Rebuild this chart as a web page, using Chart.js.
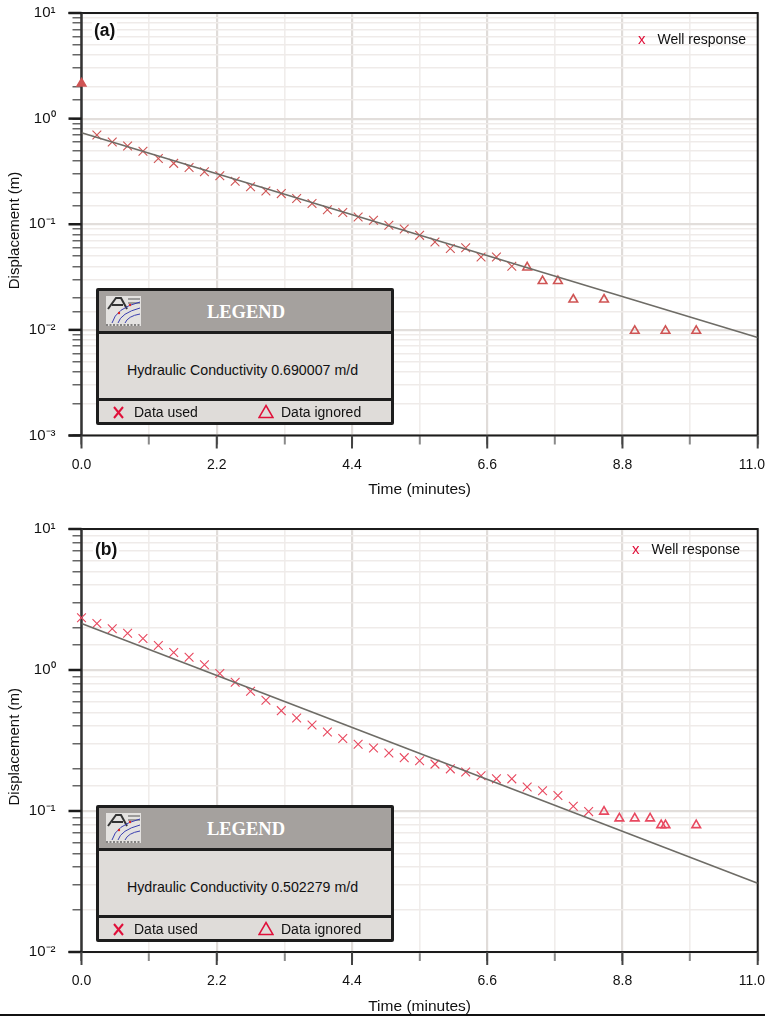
<!DOCTYPE html>
<html>
<head>
<meta charset="utf-8">
<title>Well response</title>
<script src="https://cdn.jsdelivr.net/npm/chart.js@4"></script>
<style>
html, body { margin: 0; padding: 0; background: #fff; }
body { position: relative; width: 765px; height: 1016px; overflow: hidden; font-family: "Liberation Sans", Arial, sans-serif; color: #111; }
.holder { position: absolute; left: 0; width: 765px; }
.tag { position: absolute; font-size: 17.5px; font-weight: bold; background: #fff; padding: 0 2px; line-height: 18px; }
.well { position: absolute; font-size: 14px; line-height: 16px; white-space: nowrap; }
.well b { color: #e0103a; font-weight: normal; font-size: 15px; margin-right: 12px; }
.legend { position: absolute; left: 96px; width: 298px; box-sizing: border-box; border: 3px solid #1d1d1d; border-radius: 2px; background: #dfdcd9; font-size: 14px; }
.legend .head { height: 40px; background: #a5a19e; border-bottom: 3px solid #1d1d1d; position: relative; }
.legend .head span { position: absolute; left: 2px; right: 0; top: 11px; text-align: center; color: #fff; font: bold 18.5px "Liberation Serif", serif; }
.legend .head svg { position: absolute; left: 7px; top: 5px; }
.legend .mid { height: 64px; line-height: 72px; text-align: center; padding-right: 5px; font-size: 14.2px; border-bottom: 3px solid #1d1d1d; }
.legend .foot { height: 23px; position: relative; line-height: 23px; }
.legend .foot span { position: absolute; top: 0; }
.legend .foot svg { position: absolute; }
#rule { position: absolute; left: 0; top: 1014px; width: 765px; height: 2px; background: #111; }
</style>
</head>
<body>
<div class="holder" style="top:0;height:499px"><canvas id="chartA"></canvas></div>
<div class="holder" style="top:516px;height:500px"><canvas id="chartB"></canvas></div>

<div class="tag" style="left:92px;top:21px">(a)</div>
<div class="tag" style="left:93px;top:540px">(b)</div>
<div class="well" style="left:638px;top:31px"><b>x</b>Well response</div>
<div class="well" style="left:632px;top:541px"><b>x</b>Well response</div>

<div class="legend" id="legendA" style="top:288px;height:137px"></div>
<div class="legend" id="legendB" style="top:805px;height:137px"></div>
<div id="rule"></div>

<script>
// Panel (a) readings
const timeUsedA = [0.25, 0.5, 0.75, 1, 1.25, 1.5, 1.75, 2, 2.25, 2.5, 2.75, 3, 3.25, 3.5, 3.75, 4, 4.25, 4.5, 4.75, 5, 5.25, 5.5, 5.75, 6, 6.25, 6.5, 6.75, 7];
const dispUsedA = [0.70, 0.60, 0.55, 0.49, 0.42, 0.377, 0.345, 0.314, 0.288, 0.255, 0.226, 0.206, 0.195, 0.175, 0.157, 0.137, 0.129, 0.117, 0.109, 0.098, 0.09, 0.0785, 0.068, 0.059, 0.06, 0.049, 0.049, 0.04];
const timeIgnoredA = [0, 7.25, 7.5, 7.75, 8, 8.5, 9, 9.5, 10];
const dispIgnoredA = [2.15, 0.039, 0.029, 0.029, 0.0194, 0.0194, 0.0098, 0.0098, 0.0098];
const fitTimeA = [0, 11];
const fitDispA = [0.734, 0.00845];

// Panel (b) readings
const timeUsedB = [0, 0.25, 0.5, 0.75, 1, 1.25, 1.5, 1.75, 2, 2.25, 2.5, 2.75, 3, 3.25, 3.5, 3.75, 4, 4.25, 4.5, 4.75, 5, 5.25, 5.5, 5.75, 6, 6.25, 6.5, 6.75, 7, 7.25, 7.5, 7.75, 8, 8.25];
const dispUsedB = [2.35, 2.14, 1.96, 1.82, 1.67, 1.49, 1.33, 1.23, 1.09, 0.946, 0.82, 0.706, 0.61, 0.515, 0.457, 0.407, 0.363, 0.327, 0.297, 0.28, 0.258, 0.239, 0.227, 0.215, 0.199, 0.189, 0.178, 0.169, 0.169, 0.148, 0.139, 0.129, 0.108, 0.099];
const timeIgnoredB = [8.5, 8.75, 9, 9.25, 9.43, 9.5, 10];
const dispIgnoredB = [0.099, 0.0887, 0.0887, 0.0887, 0.0794, 0.0794, 0.0794];
const fitTimeB = [0, 11];
const fitDispB = [2.14, 0.0307];

const timeTicks = ["0.0", "2.2", "4.4", "6.6", "8.8", "11.0"];
const superDigits = { "-": "\u207B", "0": "\u2070", "1": "\u00B9", "2": "\u00B2", "3": "\u00B3" };

function toPoints(xs, ys) {
    return xs.map((x, i) => ({ x: x, y: ys[i] }));
}

function isDecade(v) {
    const l = Math.log10(v);
    return Math.abs(l - Math.round(l)) < 1e-6;
}

// Frame and the longer decade ticks, neither of which the scales draw on their own
const framePlugin = {
    id: "frame",
    beforeDatasetsDraw(chart) {
        const a = chart.chartArea;
        const ctx = chart.ctx;
        ctx.save();
        ctx.strokeStyle = "#1c1c1c";
        ctx.lineWidth = 2;
        ctx.beginPath();
        ctx.moveTo(a.left - 13, a.top); ctx.lineTo(a.right, a.top); ctx.lineTo(a.right, a.bottom);
        ctx.moveTo(a.left - 13, a.bottom); ctx.lineTo(a.right, a.bottom);
        ctx.stroke();
        ctx.strokeStyle = "#333";
        ctx.lineWidth = 2.5;
        ctx.beginPath();
        ctx.moveTo(a.left, a.top); ctx.lineTo(a.left, a.bottom);
        ctx.stroke();
        ctx.strokeStyle = "#1c1c1c";
        ctx.lineWidth = 2.5;
        chart.scales.y.ticks.forEach(t => {
            if (!isDecade(t.value)) return;
            const py = chart.scales.y.getPixelForValue(t.value);
            ctx.beginPath();
            ctx.moveTo(a.left - 13, py); ctx.lineTo(a.left, py);
            ctx.stroke();
        });
        ctx.strokeStyle = "#444";
        ctx.lineWidth = 2;
        chart.scales.x.ticks.forEach((t, i) => {
            if (i % 2) return;
            const px = chart.scales.x.getPixelForValue(t.value);
            ctx.beginPath();
            ctx.moveTo(px, a.bottom); ctx.lineTo(px, a.bottom + 13);
            ctx.stroke();
        });
        ctx.restore();
    }
};

function fixWidth(w) {
    return s => {
        s.width = w;
        s.paddingLeft = s.paddingRight = s.paddingTop = s.paddingBottom = 0;
    };
}

function fixHeight(h) {
    return s => {
        s.height = h;
        s.paddingLeft = s.paddingRight = s.paddingTop = s.paddingBottom = 0;
    };
}

function drawPanel(id, cfg) {
    new Chart(document.getElementById(id), {
        type: "scatter",
        data: {
            datasets: [
                {
                    label: "Fit",
                    data: toPoints(cfg.fitTime, cfg.fitDisp),
                    showLine: true,
                    borderColor: "#6e6c66",
                    borderWidth: 1.6,
                    pointRadius: 0
                },
                {
                    label: "Data used",
                    data: toPoints(cfg.timeUsed, cfg.dispUsed),
                    pointStyle: "crossRot",
                    pointRadius: 6.2,
                    pointBorderWidth: 1.1,
                    pointBorderColor: cfg.markColor,
                    clip: false
                },
                {
                    label: "Data ignored",
                    data: toPoints(cfg.timeIgnored, cfg.dispIgnored),
                    pointStyle: "triangle",
                    pointRadius: 5,
                    pointBorderWidth: 1.6,
                    pointBorderColor: cfg.markColor,
                    // the t = 0 reading in (a) sits on the axis and reads as solid
                    pointBackgroundColor: c => c.raw.x === 0 ? cfg.markColor : "rgba(255,255,255,0)",
                    clip: false
                }
            ]
        },
        plugins: [framePlugin],
        options: {
            responsive: false,
            animation: false,
            layout: { padding: { top: cfg.top, right: 6, left: 0, bottom: 0 } },
            plugins: { legend: { display: false }, tooltip: { enabled: false } },
            scales: {
                x: {
                    type: "linear",
                    min: 0,
                    max: 11,
                    afterFit: fixHeight(cfg.xHeight),
                    border: { display: false },
                    grid: {
                        tickLength: 9,
                        lineWidth: c => c.index % 2 ? 1.6 : 2.2,
                        color: c => c.index % 2 ? "#f0edeb" : "#e0dcd9",
                        tickColor: "#8a8a8a",
                        tickWidth: 2
                    },
                    ticks: {
                        stepSize: 1.1,
                        autoSkip: false,
                        maxRotation: 0,
                        padding: 12,
                        color: "#111",
                        font: { family: "Liberation Sans", size: 14 },
                        callback: (v, i) => i % 2 ? "" : (i === 10 ? timeTicks[i / 2] + "   " : timeTicks[i / 2])
                    },
                    title: {
                        display: true,
                        text: "Time (minutes)",
                        color: "#111",
                        padding: { top: 0, bottom: 0 },
                        font: { family: "Liberation Sans", size: 15.5 }
                    }
                },
                y: {
                    type: "logarithmic",
                    min: cfg.yMin,
                    max: 10,
                    afterFit: fixWidth(81.5),
                    border: { display: false },
                    grid: {
                        tickLength: 9,
                        lineWidth: c => isDecade(c.tick.value) ? 2.2 : 1.5,
                        color: c => isDecade(c.tick.value) ? "#e2dedb" : "#efebe9",
                        tickColor: "#666",
                        tickWidth: 1.5
                    },
                    ticks: {
                        autoSkip: false,
                        padding: 17,
                        color: "#111",
                        font: { family: "Liberation Sans", size: 15 },
                        callback: v => {
                            if (!isDecade(v)) return "";
                            const exp = String(Math.round(Math.log10(v)));
                            return "10" + exp.split("").map(c => superDigits[c]).join("");
                        }
                    },
                    title: {
                        display: true,
                        text: "Displacement (m)   ",
                        color: "#111",
                        padding: { top: 6, bottom: 0 },
                        font: { family: "Liberation Sans", size: 15 }
                    }
                }
            }
        }
    });
}

function sizeCanvas(id, h) {
    const c = document.getElementById(id);
    c.width = 765;
    c.height = h;
    c.style.width = "765px";
    c.style.height = h + "px";
}

sizeCanvas("chartA", 499);
sizeCanvas("chartB", 500);

drawPanel("chartA", {
    fitTime: fitTimeA, fitDisp: fitDispA,
    timeUsed: timeUsedA, dispUsed: dispUsedA,
    timeIgnored: timeIgnoredA, dispIgnored: dispIgnoredA,
    markColor: "#cf5454", yMin: 0.001, top: 13, xHeight: 63.5
});
drawPanel("chartB", {
    fitTime: fitTimeB, fitDisp: fitDispB,
    timeUsed: timeUsedB, dispUsed: dispUsedB,
    timeIgnored: timeIgnoredB, dispIgnored: dispIgnoredB,
    markColor: "#e8485f", yMin: 0.01, top: 13, xHeight: 64
});

// Legend boxes
const iconSvg = '<svg width="35" height="30" viewBox="0 0 35 30">' +
    '<rect width="35" height="30" fill="#e4e2e0"/>' +
    '<path d="M2 13 L10 2 L15 2 L21 13 M6 9 L17 9" fill="none" stroke="#333" stroke-width="2"/>' +
    '<path d="M22 3 H34 M22 7 H34" stroke="#555" stroke-width="1"/>' +
    '<path d="M6 27 Q10 12 34 6 M12 27 Q15 17 34 12 M19 27 Q22 20 34 18" fill="none" stroke="#3a3fb0" stroke-width="1"/>' +
    '<circle cx="13" cy="17" r="1.2" fill="#d22"/><circle cx="24" cy="9" r="1.2" fill="#d22"/>' +
    '<path d="M0 29 H35" stroke="#222" stroke-width="1.2" stroke-dasharray="2 1.5"/></svg>';

function fillLegend(id, kValue) {
    document.getElementById(id).innerHTML =
        '<div class="head">' + iconSvg + '<span>LEGEND</span></div>' +
        '<div class="mid">Hydraulic Conductivity ' + kValue + ' m/d</div>' +
        '<div class="foot">' +
        '<svg style="left:14px;top:5px" width="11" height="13"><path d="M1 1 L10 12 M10 1 L1 12" stroke="#e0103a" stroke-width="2"/></svg>' +
        '<span style="left:35px">Data used</span>' +
        '<svg style="left:159px;top:3px" width="16" height="15"><path d="M8 1.5 L15 13.5 L1 13.5 Z" fill="none" stroke="#e0103a" stroke-width="1.5"/></svg>' +
        '<span style="left:182px">Data ignored</span>' +
        '</div>';
}

fillLegend("legendA", "0.690007");
fillLegend("legendB", "0.502279");
</script>
</body>
</html>
